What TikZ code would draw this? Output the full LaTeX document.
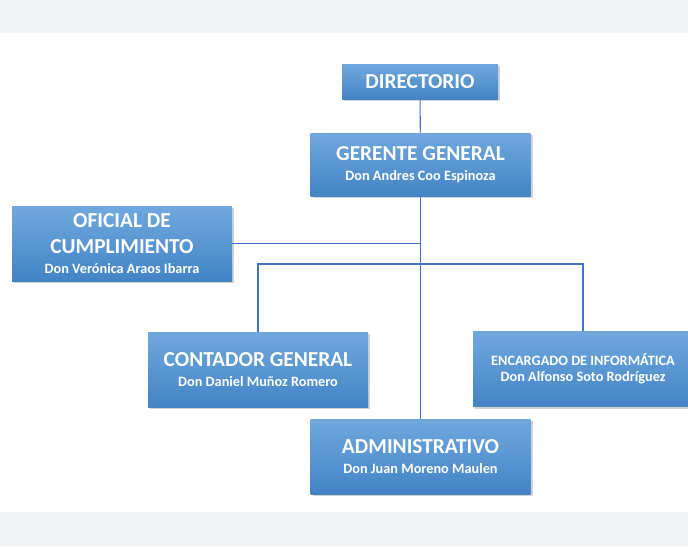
\documentclass[tikz,border=0pt]{standalone}
\usepackage{fontspec}
\setmainfont{Carlito}
\usetikzlibrary{shadows}
\definecolor{cajaarriba}{HTML}{70A8DE}
\definecolor{cajamedio}{HTML}{5699D6}
\definecolor{cajaabajo}{HTML}{4384C5}
\definecolor{linea}{HTML}{4472C4}
\definecolor{franja}{HTML}{F3F4F6}
\newcommand{\titcargo}{\fontsize{16}{19}\selectfont}
\newcommand{\nomcargo}{\fontsize{10.7}{12}\selectfont}
\begin{document}
\begin{tikzpicture}[x=0.75pt,y=-0.75pt,
    cargo/.style={shading=axis,top color=cajaarriba,middle color=cajamedio,bottom color=cajaabajo,
      minimum width=165pt,minimum height=56.25pt,inner sep=0pt,align=center,text=white,font=\bfseries,
      drop shadow={shadow xshift=1.5pt,shadow yshift=-1.5pt,opacity=0.35}},
    conector/.style={linea,line width=0.8pt}]
          \useasboundingbox (0,0) rectangle (688,546);
          \clip (0,0) rectangle (688,546);
          \fill[franja] (0,0) rectangle (688,33);
          \fill[franja] (0,512) rectangle (688,546);
          % cajas
          \node[cargo,minimum width=117pt,minimum height=26.25pt] (dir) at (420,81.5) {\titcargo DIRECTORIO};
          \node[cargo,minimum height=47.25pt] (ger) at (420.5,164.5) {\titcargo GERENTE GENERAL\\[3pt]\nomcargo Don Andres Coo Espinoza};
          \node[cargo] (ofi) at (122,243.5) {\titcargo OFICIAL DE\\[7pt]\titcargo CUMPLIMIENTO\\[3pt]\nomcargo Don Verónica Araos Ibarra};
          \node[cargo] (con) at (258,369.5) {\titcargo CONTADOR GENERAL\\[3pt]\nomcargo Don Daniel Muñoz Romero};
          \node[cargo] (enc) at (583,369) {\nomcargo ENCARGADO DE INFORMÁTICA\\[0pt]\nomcargo Don Alfonso Soto Rodríguez};
          \node[cargo] (adm) at (420.5,456.5) {\titcargo ADMINISTRATIVO\\[3pt]\nomcargo Don Juan Moreno Maulen};
          % lineas
          \coordinate (bus) at (420.5,264);
          \draw[conector] (dir) -- (ger);
          \draw[conector] (ger) -- (adm);
          \draw[conector] (ofi.east) -- (ofi.east -| ger.south);
          \draw[conector] (con.north) |- (bus) -| (enc.north);
            \end{tikzpicture}
\end{document}
